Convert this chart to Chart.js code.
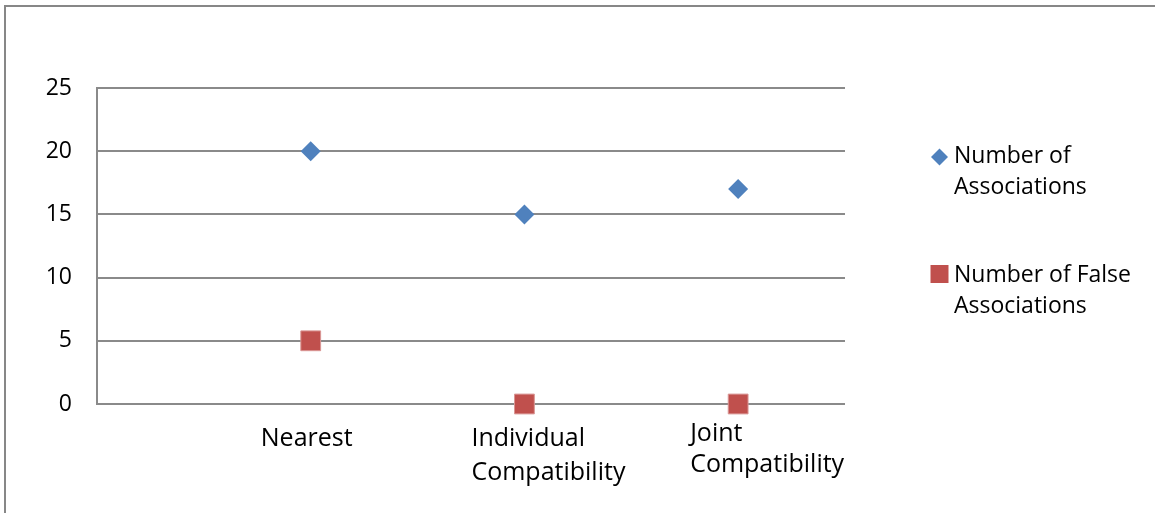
<!DOCTYPE html>
<html>
<head>
<meta charset="utf-8">
<script src="https://cdn.jsdelivr.net/npm/chart.js@4/dist/chart.umd.min.js"></script>
<style>
  html, body { margin: 0; padding: 0; background: #ffffff; }
  #wrap { position: relative; width: 1155px; height: 513px; }
</style>
</head>
<body>
<div id="wrap"><canvas id="c" width="1155" height="513"></canvas></div>
<script>
// Data
const categories = ['Nearest', 'Individual Compatibility', 'Joint Compatibility'];
const seriesNames = ['Number of Associations', 'Number of False Associations'];
const associations = [20, 15, 17];
const falseAssociations = [5, 0, 0];
const yTicks = [0, 5, 10, 15, 20, 25];

// Style
const FONT_FAMILY = '"Open Sans", "Noto Sans", sans-serif';
const TICK_SIZE = 23;
const CAT_SIZE = 25;
const LEGEND_SIZE = 23;
const TEXT = '#000000';
const GRID = '#8a8a8a';
const BLUE = '#4F81BD';
const RED = '#C0504D';

function wrapText(ctx, text, maxW) {
  const words = text.split(' ');
  const lines = [];
  let cur = '';
  for (const w of words) {
    const test = cur ? cur + ' ' + w : w;
    if (cur && ctx.measureText(test).width > maxW) {
      lines.push(cur);
      cur = w;
    } else {
      cur = test;
    }
  }
  if (cur) lines.push(cur);
  return lines;
}

// Placement of the category labels under each point
const catPlacement = [
  { align: 'center', dx: -4, baselines: [446] },
  { align: 'left', dx: -53, baselines: [446, 480] },
  { align: 'left', dx: -48, baselines: [441, 472] }
];

const decorations = {
  id: 'decorations',
  beforeDraw(chart) {
    const ctx = chart.ctx;
    ctx.save();
    ctx.fillStyle = '#ffffff';
    ctx.fillRect(0, 0, chart.width, chart.height);
    ctx.strokeStyle = '#878787';
    ctx.lineWidth = 2;
    ctx.strokeRect(5, 6, chart.width + 20, chart.height + 20);
    ctx.restore();
  },
  afterDraw(chart) {
    const ctx = chart.ctx;
    const xs = chart.scales.x;
    ctx.save();
    ctx.fillStyle = TEXT;
    ctx.textBaseline = 'alphabetic';

    // category labels
    ctx.font = CAT_SIZE + 'px ' + FONT_FAMILY;
    categories.forEach((cat, i) => {
      const p = catPlacement[i];
      const x = xs.getPixelForValue(i + 1) + p.dx;
      const lines = wrapText(ctx, cat, 190);
      ctx.textAlign = p.align;
      lines.forEach((ln, j) => ctx.fillText(ln, x, p.baselines[j]));
    });

    // legend
    ctx.font = LEGEND_SIZE + 'px ' + FONT_FAMILY;
    const legendX = 954;
    const entries = [
      { marker: 'diamond', color: BLUE, cy: 157, baselines: [163, 194] },
      { marker: 'square', color: RED, cy: 274, baselines: [282, 313] }
    ];
    ctx.textAlign = 'left';
    entries.forEach((e, i) => {
      ctx.fillStyle = e.color;
      const cx = 939.5;
      ctx.beginPath();
      if (e.marker === 'diamond') {
        const r = 8.5;
        ctx.moveTo(cx, e.cy - r);
        ctx.lineTo(cx + r, e.cy);
        ctx.lineTo(cx, e.cy + r);
        ctx.lineTo(cx - r, e.cy);
        ctx.closePath();
      } else {
        ctx.rect(cx - 9, e.cy - 9, 18, 18);
      }
      ctx.fill();
      ctx.fillStyle = TEXT;
      const lines = wrapText(ctx, seriesNames[i], 195);
      lines.forEach((ln, j) => ctx.fillText(ln, legendX, e.baselines[j]));
    });
    ctx.restore();
  }
};

function toPoints(values) {
  return values.map((v, i) => ({ x: i + 1, y: v }));
}

new Chart(document.getElementById('c'), {
  type: 'scatter',
  data: {
    datasets: [
      {
        label: seriesNames[0],
        data: toPoints(associations),
        pointStyle: 'rectRot',
        pointRadius: 10,
        backgroundColor: BLUE,
        borderColor: BLUE,
        borderWidth: 0,
        clip: false
      },
      {
        label: seriesNames[1],
        data: toPoints(falseAssociations),
        pointStyle: 'rect',
        pointRadius: 14,
        backgroundColor: RED,
        borderColor: '#d99694',
        borderWidth: 1,
        clip: false
      }
    ]
  },
  options: {
    responsive: false,
    animation: false,
    devicePixelRatio: 1,
    layout: { padding: { top: 88, right: 310, left: 0, bottom: 0 } },
    plugins: { legend: { display: false }, tooltip: { enabled: false } },
    scales: {
      x: {
        type: 'linear',
        min: 0,
        max: 3.5,
        grid: { display: false },
        border: { display: false },
        ticks: { display: false },
        afterFit(s) { s.height = 109; }
      },
      y: {
        min: 0,
        max: 25,
        afterBuildTicks(s) { s.ticks = yTicks.map(v => ({ value: v })); },
        grid: { color: GRID, lineWidth: 2, drawTicks: false },
        border: { display: true, color: GRID, width: 2 },
        ticks: {
          color: TEXT,
          padding: 25,
          font: { family: FONT_FAMILY, size: TICK_SIZE }
        },
        afterFit(s) { s.width = 97; }
      }
    }
  },
  plugins: [decorations]
});
</script>
</body>
</html>
